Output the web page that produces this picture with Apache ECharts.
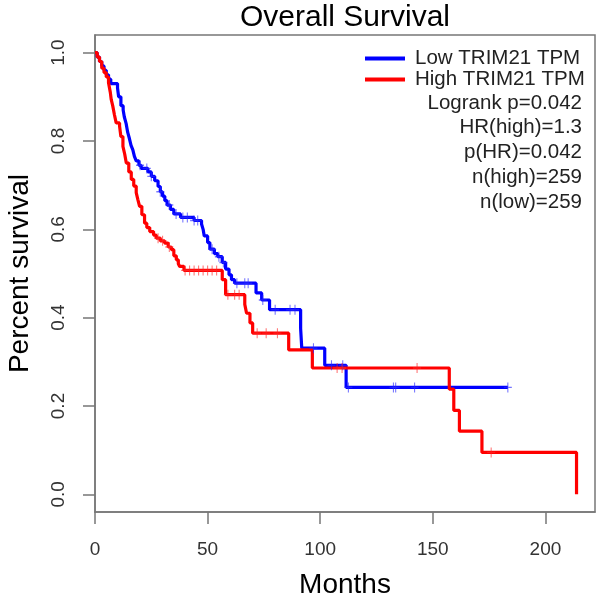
<!DOCTYPE html>
<html>
<head>
<meta charset="utf-8">
<script src="https://cdn.jsdelivr.net/npm/echarts@6/dist/echarts.min.js"></script>
<style>html,body{margin:0;padding:0;background:#fff;}#c{width:600px;height:604px;}</style>
</head>
<body>
<div id="c"></div>
<script>
// Low TRIM21 TPM (blue) Kaplan-Meier steps
const lowTimes = [0,1,2,3,4,5,6,7,10,10.5,11.5,12.5,13,13.8,14.5,15.3,16,16.8,17.5,18.3,19.5,20.5,23.5,25,26.5,28,29,30,31,32,33.5,35,38,44,47.3,48,48.5,50,51,53,54.5,56.5,58,59.5,60.6,62,71.5,74,77.5,91.3,91.8,102,111.5,183.3];
const lowSurv  = [1.0,0.99,0.98,0.97,0.96,0.95,0.94,0.93,0.92,0.9,0.88,0.87,0.855,0.84,0.82,0.805,0.79,0.78,0.765,0.755,0.745,0.738,0.73,0.72,0.71,0.697,0.685,0.675,0.665,0.655,0.645,0.635,0.627,0.62,0.612,0.6,0.585,0.57,0.555,0.545,0.538,0.525,0.51,0.497,0.486,0.478,0.456,0.44,0.418,0.375,0.331,0.292,0.242,0.242];
const lowCensor = [20,23,25,29,33,36,39,41,44,45.6,52,55,57,63,66.5,68,74.5,80,86.6,88.8,97,105,110,112.5,132.5,133.5,141.9,183.3];

// High TRIM21 TPM (red) Kaplan-Meier steps
const highTimes = [0,1,2,3,4,5,6,6.8,7.2,7.9,8.6,9.4,10.9,11.5,12.4,13.2,13.9,15,16.1,17.2,18.3,19,19.8,20.8,22,23,24.3,26,27.2,29,30.9,32.5,33.9,35,36.1,37,37.6,39.5,56.5,58,66.5,67.3,68.8,70,86,96.5,157.3,159.3,161.8,171.8,213.8];
const highSurv  = [1.0,0.99,0.98,0.965,0.955,0.945,0.932,0.91,0.894,0.879,0.86,0.841,0.834,0.81,0.788,0.77,0.75,0.73,0.713,0.698,0.683,0.668,0.652,0.633,0.614,0.604,0.595,0.587,0.58,0.574,0.569,0.56,0.554,0.54,0.531,0.522,0.516,0.507,0.486,0.452,0.43,0.41,0.388,0.365,0.327,0.286,0.238,0.19,0.143,0.095,0.0];
const highCensor = [28,30,33,40,42,44,46,48,50,52,54,59,62,64,72,76,81,107.5,109.7,143,175.9];

const xTicks = [0,50,100,150,200];
const yTicks = [0,0.2,0.4,0.6,0.8,1.0];
const statLines = ['Logrank p=0.042','HR(high)=1.3','p(HR)=0.042','n(high)=259','n(low)=259'];

function survAt(times, surv, t){
  let s = surv[0];
  for (let i=0;i<times.length;i++){ if (times[i] <= t) s = surv[i]; }
  return s;
}
const pair = (ts, ss) => ts.map((t,i)=>[t, ss[i]]);
const censorPts = (cs, ts, ss) => cs.map(t=>[t, survAt(ts, ss, t)]);

const FONT = 'Liberation Sans, Arial, sans-serif';
const plus = 'path://M5,0L5,10M0,5L10,5';

const chart = echarts.init(document.getElementById('c'), null, {renderer:'canvas'});
chart.setOption({
  animation:false,
  backgroundColor:'#fff',
  title:{
    text:'Overall Survival', left:345, top:3, textAlign:'center', padding:[0,0,0,0],
    textStyle:{fontFamily:FONT, fontSize:30, fontWeight:'normal', color:'#000'}
  },
  grid:{left:95, right:5, top:35, bottom:92, show:true, borderColor:'#777', borderWidth:1.5,
        backgroundColor:'transparent', containLabel:false, outerBoundsMode:'none'},
  legend:{
    data:['Low TRIM21 TPM','High TRIM21 TPM'],
    orient:'vertical', left:360, top:43, itemWidth:40, itemHeight:4, itemGap:0,
    icon:'rect', selectedMode:false,
    textStyle:{fontFamily:FONT, fontSize:20.5, lineHeight:20, color:'#222', padding:[0,0,0,5]}
  },
  xAxis:{
    type:'value', min:0, max:222,
    name:'Months', nameLocation:'middle', nameGap:59,
    nameTextStyle:{fontFamily:FONT, fontSize:28, color:'#000'},
    axisLine:{show:true, onZero:false, lineStyle:{color:'#777', width:1.5}},
    axisTick:{show:true, length:12, lineStyle:{color:'#777', width:1.5}, customValues:xTicks},
    axisLabel:{customValues:xTicks, fontFamily:FONT, fontSize:19, color:'#333', margin:28},
    splitLine:{show:false}
  },
  yAxis:{
    type:'value', min:-0.04, max:1.04,
    name:'Percent survival', nameLocation:'middle', nameGap:61, nameRotate:90,
    nameTextStyle:{fontFamily:FONT, fontSize:28, color:'#000'},
    axisLine:{show:true, onZero:false, lineStyle:{color:'#777', width:1.5}},
    axisTick:{show:true, length:12, lineStyle:{color:'#777', width:1.5}, customValues:yTicks},
    axisLabel:{customValues:yTicks, rotate:90, fontFamily:FONT, fontSize:19, color:'#333', margin:27,
      formatter:v=>Number(v).toFixed(1)},
    splitLine:{show:false}
  },
  series:[
    {name:'Low TRIM21 TPM', type:'line', step:'end', data:pair(lowTimes, lowSurv), showSymbol:false,
     lineStyle:{color:'#0000ff', width:3.2}, itemStyle:{color:'#0000ff'}, z:2},
    {name:'High TRIM21 TPM', type:'line', step:'end', data:pair(highTimes, highSurv), showSymbol:false,
     lineStyle:{color:'#ff0000', width:3.2}, itemStyle:{color:'#ff0000'}, z:3},
    {name:'low censored', type:'scatter', data:censorPts(lowCensor, lowTimes, lowSurv), symbol:plus, symbolSize:[8,10],
     itemStyle:{color:'rgba(0,0,0,0)', borderColor:'rgba(40,40,255,0.8)', borderWidth:1.2}, z:4, silent:true},
    {name:'high censored', type:'scatter', data:censorPts(highCensor, highTimes, highSurv), symbol:plus, symbolSize:[8,10],
     itemStyle:{color:'rgba(0,0,0,0)', borderColor:'rgba(255,40,40,0.8)', borderWidth:1.2}, z:4, silent:true}
  ],
  graphic: statLines.map((t,i)=>({
    type:'text', x:582, y:103 + i*24.8,
    style:{text:t, font:'20.5px ' + FONT, fill:'#222', align:'right', verticalAlign:'middle',
           textAlign:'right', textVerticalAlign:'middle'}
  }))
});
</script>
</body>
</html>
